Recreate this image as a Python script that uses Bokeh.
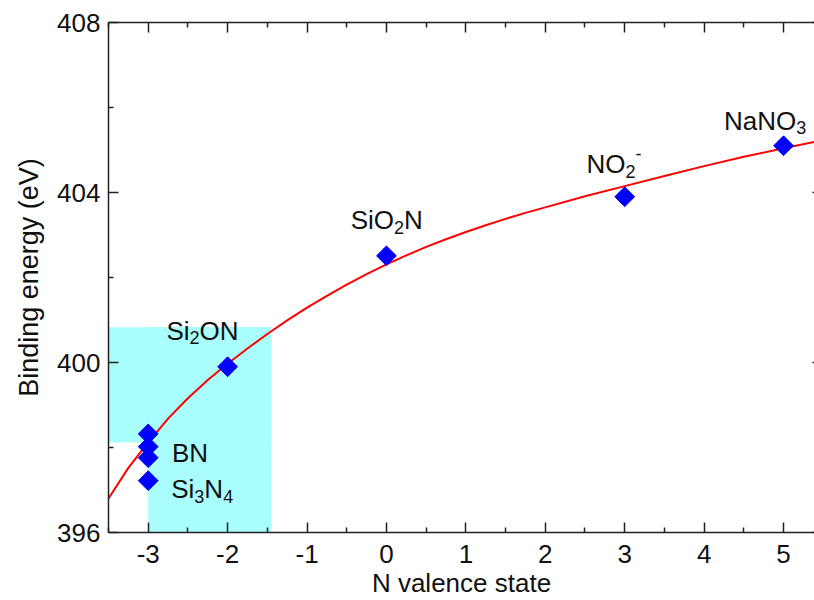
import numpy as np
from bokeh.plotting import figure
from bokeh.models import Range1d, FixedTicker, LinearAxis
from bokeh.embed import file_html
from bokeh.resources import INLINE
from bokeh.core.properties import value

# N 1s binding energy versus nitrogen valence state
valence = [-3, -3, -3, -3, -2, 0, 3, 5]
binding_energy = [398.32, 398.02, 397.76, 397.22, 399.90, 402.51, 403.90, 405.10]

# fitted trend curve (sampled)
fit_valence = [-3.5, -3.25, -3.0, -2.75, -2.5, -2.25, -2.0, -1.75, -1.5, -1.25,
               -1.0, -0.75, -0.5, -0.25, 0.0, 0.25, 0.5, 0.75, 1.0, 1.25, 1.5, 1.75,
               2.0, 2.5, 3.0, 3.5, 4.0, 4.5, 5.0, 5.5]
fit_energy = [396.80, 397.52, 398.12, 398.68, 399.16, 399.59, 399.97, 400.33, 400.67, 400.99,
              401.29, 401.57, 401.83, 402.08, 402.31, 402.52, 402.72, 402.90, 403.07, 403.23,
              403.38, 403.52, 403.65, 403.91, 404.15, 404.39, 404.62, 404.84, 405.04, 405.23]

# highlighted nitride window
window_valence = [-3.0, -1.45]
window_energy = [398.12, 400.83]

x_ticks = [-3, -2, -1, 0, 1, 2, 3, 4, 5]
x_minor = [-3.5, -2.5, -1.5, -0.5, 0.5, 1.5, 2.5, 3.5, 4.5, 5.5]
y_ticks = [396, 400, 404, 408]
y_minor = [398, 402, 406]

# compound labels: "_" = subscript next char, "^" = superscript next char
label_text = ["Si_2ON", "BN", "Si_3N_4", "SiO_2N", "NO_2^-", "NaNO_3"]
label_x = [-2.77, -2.70, -2.71, -0.45, 2.52, 4.25]
label_y = [400.75, 397.88, 397.02, 403.35, 404.67, 405.69]

FONT = "Liberation Sans"
MAIN_PX = 26
SMALL_PX = 18
ADV = {'S': .667, 'i': .222, 'O': .778, 'N': .722, 'B': .722, 'a': .556,
       '2': .556, '3': .556, '4': .556, '-': .333}

p = figure(width=814, height=600, output_backend="svg", toolbar_location=None,
           x_range=Range1d(-3.5, 5.39), y_range=Range1d(396, 408),
           min_border_left=108, min_border_right=0, min_border_top=22, min_border_bottom=68,
           x_axis_label="N valence state", y_axis_label="Binding energy (eV)")
p.outline_line_color = None
p.grid.visible = False
p.background_fill_color = "white"
p.border_fill_color = "white"

bottom = p.below[0]
left = p.left[0]

# shaded window: full-width band in energy plus full-height band in valence
p.quad(left=[-3.5], right=[window_valence[1]], bottom=[window_energy[0]], top=[window_energy[1]],
       fill_color="#aafdfd", line_color=None)
p.quad(left=[window_valence[0]], right=[window_valence[1]], bottom=[396], top=[window_energy[1]],
       fill_color="#aafdfd", line_color=None)

p.line(fit_valence, fit_energy, line_color="#ff0000", line_width=2)
p.scatter(valence, binding_energy, marker="square", angle=np.pi / 4, size=14,
          fill_color="#0000ff", line_color="#0000ff")

# rich-text compound labels built from plain text pieces
main = dict(x=[], y=[], t=[], dx=[], dy=[])
small = dict(x=[], y=[], t=[], dx=[], dy=[])
for txt, lx, ly in zip(label_text, label_x, label_y):
    off = 0.0
    i = 0
    run = ""

    def flush(run, off):
        if run:
            main["x"].append(lx); main["y"].append(ly); main["t"].append(run)
            main["dx"].append(off); main["dy"].append(0)
            off += sum(ADV[c] for c in run) * MAIN_PX
        return off

    while i < len(txt):
        c = txt[i]
        if c in "_^":
            off = flush(run, off)
            run = ""
            ch = txt[i + 1]
            small["x"].append(lx); small["y"].append(ly); small["t"].append(ch)
            small["dx"].append(off); small["dy"].append(7 if c == "_" else -11)
            off += ADV[ch] * SMALL_PX
            i += 2
        else:
            run += c
            i += 1
    flush(run, off)

p.text(x=main["x"], y=main["y"], text=main["t"], x_offset=main["dx"], y_offset=main["dy"],
       text_font=value(FONT), text_font_size=f"{MAIN_PX}px", text_color="#111111",
       text_align="left", text_baseline="alphabetic")
p.text(x=small["x"], y=small["y"], text=small["t"], x_offset=small["dx"], y_offset=small["dy"],
       text_font=value(FONT), text_font_size=f"{SMALL_PX}px", text_color="#111111",
       text_align="left", text_baseline="alphabetic")

xt = FixedTicker(ticks=x_ticks, minor_ticks=x_minor)
yt = FixedTicker(ticks=y_ticks, minor_ticks=y_minor)

bottom.ticker = xt
left.ticker = yt
# plain hyphen-minus on negative tick labels
bottom.major_label_overrides = {t: str(t) for t in x_ticks}

top = LinearAxis(ticker=xt)
right = LinearAxis(ticker=yt)
p.add_layout(top, "above")
p.add_layout(right, "right")

for ax in [bottom, left, top, right]:
    ax.major_tick_in = 10
    ax.major_tick_out = 0
    ax.minor_tick_in = 5
    ax.minor_tick_out = 0
    ax.axis_line_width = 1.5
    ax.major_tick_line_width = 1.5
    ax.minor_tick_line_width = 1.5
    ax.axis_line_color = "#222222"
    ax.major_tick_line_color = "#222222"
    ax.minor_tick_line_color = "#222222"
    ax.major_label_text_font = FONT
    ax.major_label_text_font_size = f"{MAIN_PX}px"
    ax.major_label_text_color = "#111111"
    ax.axis_label_text_font = FONT
    ax.axis_label_text_font_size = f"{MAIN_PX}px"
    ax.axis_label_text_font_style = "normal"
    ax.axis_label_text_color = "#111111"

left.axis_label_text_font_size = "27px"

# frame-only axes: ticks without labels
for ax in [top, right]:
    ax.major_label_text_color = None
    ax.major_label_text_font_size = "1px"
    ax.major_label_standoff = 0

right.axis_line_color = None
right.major_tick_in = 2
right.minor_tick_in = 0

bottom.major_label_standoff = 12
bottom.axis_label_standoff = 2
left.major_label_standoff = 8
left.axis_label_standoff = 10

open("out.html", "w").write(file_html(p, INLINE))
